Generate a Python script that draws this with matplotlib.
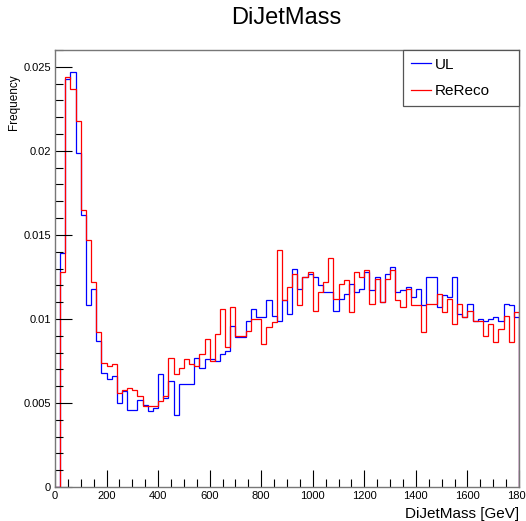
import numpy as np
import matplotlib
matplotlib.use("Agg")
import matplotlib.pyplot as plt
from matplotlib.ticker import MultipleLocator, FuncFormatter

plt.rcParams['font.family'] = ['Liberation Sans', 'DejaVu Sans']

# 90 bins of 20 GeV from 0 to 1800
bin_edges = np.arange(0, 1801, 20)

ul = [0.0, 0.0139, 0.0243, 0.0247, 0.0199, 0.0162, 0.0108, 0.0118, 0.0087, 0.0068,
      0.0064, 0.0066, 0.0050, 0.0057, 0.0046, 0.0046, 0.0052, 0.0049, 0.0045, 0.0047,
      0.0067, 0.0053, 0.0063, 0.0043, 0.0061, 0.0061, 0.0061, 0.0077, 0.0071, 0.0076,
      0.0076, 0.0075, 0.0079, 0.0081, 0.0096, 0.0089, 0.0089, 0.0099, 0.0106, 0.0101,
      0.0101, 0.0111, 0.0102, 0.0099, 0.0111, 0.0103, 0.0130, 0.0118, 0.0125, 0.0127,
      0.0125, 0.0120, 0.0116, 0.0116, 0.0105, 0.0112, 0.0115, 0.0121, 0.0116, 0.0118,
      0.0128, 0.0117, 0.0125, 0.0110, 0.0127, 0.0131, 0.0116, 0.0117, 0.0119, 0.0113,
      0.0118, 0.0108, 0.0125, 0.0125, 0.0107, 0.0114, 0.0113, 0.0125, 0.0103, 0.0101,
      0.0109, 0.0099, 0.0100, 0.0099, 0.0100, 0.0101, 0.0099, 0.0109, 0.0108, 0.0101]

rereco = [0.0, 0.0128, 0.0244, 0.0237, 0.0218, 0.0165, 0.0147, 0.0122, 0.0092, 0.0074,
          0.0072, 0.0073, 0.0056, 0.0058, 0.0059, 0.0058, 0.0054, 0.0048, 0.0048, 0.0048,
          0.0051, 0.0054, 0.0077, 0.0067, 0.0071, 0.0076, 0.0073, 0.0072, 0.0079, 0.0088,
          0.0075, 0.0091, 0.0106, 0.0083, 0.0107, 0.0090, 0.0090, 0.0093, 0.0100, 0.0100,
          0.0085, 0.0095, 0.0098, 0.0141, 0.0111, 0.0119, 0.0127, 0.0108, 0.0125, 0.0128,
          0.0105, 0.0116, 0.0122, 0.0136, 0.0112, 0.0121, 0.0123, 0.0104, 0.0128, 0.0125,
          0.0129, 0.0109, 0.0124, 0.0110, 0.0124, 0.0129, 0.0111, 0.0107, 0.0118, 0.0108,
          0.0108, 0.0092, 0.0109, 0.0109, 0.0115, 0.0104, 0.0112, 0.0097, 0.0109, 0.0101,
          0.0105, 0.0099, 0.0099, 0.0090, 0.0097, 0.0086, 0.0094, 0.0102, 0.0086, 0.0104]

fig = plt.figure(figsize=(5.26, 5.21), dpi=100)
ax = fig.add_axes([55 / 526, 34 / 521, 464 / 526, 437 / 521])

ax.stairs(ul, bin_edges, color='#0000ff', lw=0.9, label='UL')
ax.stairs(rereco, bin_edges, color='#ff0000', lw=0.9, label='ReReco')

ax.set_xlim(0, 1800)
ax.set_ylim(0, 0.026)

# ROOT-like ticks: inside, only left/bottom
ax.xaxis.set_major_locator(MultipleLocator(200))
ax.xaxis.set_minor_locator(MultipleLocator(50))
ax.yaxis.set_major_locator(MultipleLocator(0.005))
ax.yaxis.set_minor_locator(MultipleLocator(0.001))
ax.yaxis.set_major_formatter(FuncFormatter(lambda v, p: '%g' % round(v, 4)))
ax.tick_params(which='both', direction='in', labelsize=8, color='black', width=0.8)
ax.tick_params(which='major', length=12, pad=3)
ax.tick_params(which='minor', length=6)
for s in ax.spines.values():
    s.set_color('#777777')
    s.set_linewidth(1.0)

ax.set_xlabel('DiJetMass [GeV]', loc='right', fontsize=11, labelpad=4)
ax.set_ylabel('Frequency', loc='top', fontsize=8.5)
ax.yaxis.set_label_coords(-0.075, 0.945)
fig.text(0.545, 0.965, 'DiJetMass', ha='center', va='center', fontsize=17)

leg = ax.legend(loc='upper right', bbox_to_anchor=(348 / 464, 0, 116 / 464, 1),
                mode='expand', borderaxespad=0, fancybox=False, edgecolor='#555555',
                fontsize=11, handlelength=1.3, handletextpad=0.3,
                labelspacing=0.8, borderpad=0.5, framealpha=1)
leg.get_frame().set_linewidth(0.9)

fig.savefig('out.png', dpi=100)
